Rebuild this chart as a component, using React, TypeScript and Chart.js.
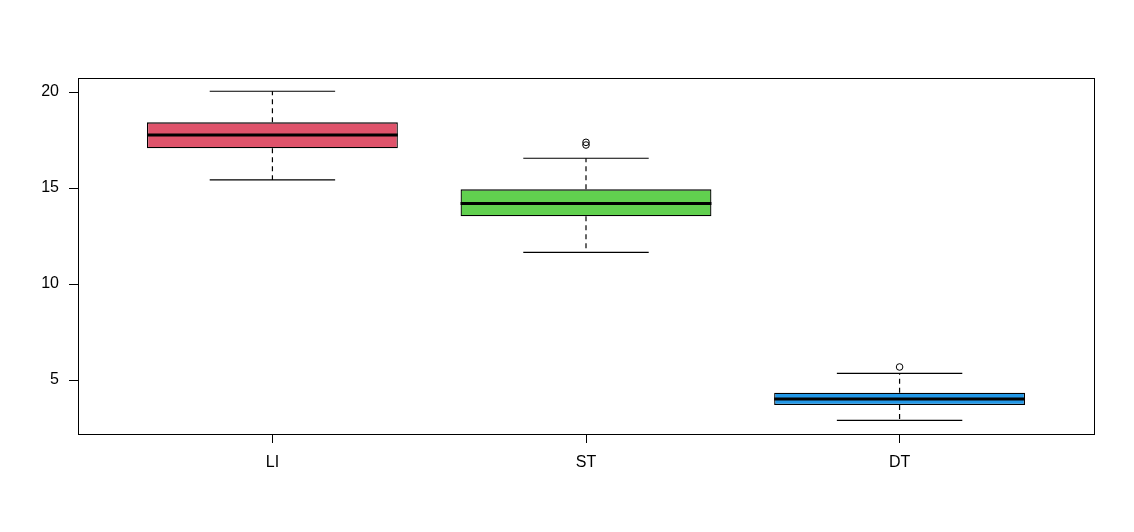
import React, { useEffect, useRef } from 'react';
import { Chart, registerables } from 'chart.js';

Chart.register(...registerables);

// ---- Data ----
const categories = ['LI', 'ST', 'DT'];
const whiskerLow = [15.42, 11.65, 2.9];
const quartile1 = [17.07, 13.53, 3.7];
const medians = [17.76, 14.2, 4.01];
const quartile3 = [18.42, 14.93, 4.34];
const whiskerHigh = [20.04, 16.55, 5.35];
const outlierCategory = [2, 2, 3];
const outlierValues = [17.38, 17.24, 5.68];
const yTicks = [5, 10, 15, 20];
const boxColors = ['#DF536B', '#61D04F', '#2297E6'];

const BOX_HALF = 0.4;
const CAP_HALF = 0.2;

type Pt = { x: number; y: number | null };

function segments(list: [number, number, number, number][]): Pt[] {
  const out: Pt[] = [];
  list.forEach(([x1, y1, x2, y2]) => {
    out.push({ x: x1, y: y1 });
    out.push({ x: x2, y: y2 });
    out.push({ x: x2, y: null });
  });
  return out;
}

const framePlugin = {
  id: 'frame',
  afterDraw(chart: any) {
    const { ctx, chartArea } = chart;
    ctx.save();
    ctx.strokeStyle = '#000';
    ctx.lineWidth = 1;
    ctx.strokeRect(
      Math.round(chartArea.left) + 0.5,
      Math.round(chartArea.top) + 0.5,
      Math.round(chartArea.right - chartArea.left),
      Math.round(chartArea.bottom - chartArea.top)
    );
    ctx.restore();
  },
};

export default function App() {
  const ref = useRef<HTMLCanvasElement | null>(null);

  useEffect(() => {
    if (!ref.current) return;
    Chart.defaults.font.family = "'Liberation Sans', Arial, sans-serif";
    Chart.defaults.font.size = 16;
    Chart.defaults.color = '#000';

    const boxData = categories.map((_, i) => ({ x: i + 1, y: [quartile1[i], quartile3[i]] }));
    const medianData = segments(
      categories.map((_, i) => [i + 1 - BOX_HALF, medians[i], i + 1 + BOX_HALF, medians[i]] as [number, number, number, number])
    );
    const whiskerData = segments(
      categories.flatMap((_, i) => [
        [i + 1, quartile3[i], i + 1, whiskerHigh[i]] as [number, number, number, number],
        [i + 1, quartile1[i], i + 1, whiskerLow[i]] as [number, number, number, number],
      ])
    );
    const capData = segments(
      categories.flatMap((_, i) => [
        [i + 1 - CAP_HALF, whiskerHigh[i], i + 1 + CAP_HALF, whiskerHigh[i]] as [number, number, number, number],
        [i + 1 - CAP_HALF, whiskerLow[i], i + 1 + CAP_HALF, whiskerLow[i]] as [number, number, number, number],
      ])
    );
    const outlierData = outlierValues.map((v, i) => ({ x: outlierCategory[i], y: v }));

    const chart = new Chart(ref.current, {
      type: 'bar',
      data: {
        datasets: [
          {
            type: 'line',
            label: 'median',
            data: medianData as any,
            borderColor: '#000',
            borderWidth: 3,
            borderCapStyle: 'butt',
            pointRadius: 0,
            spanGaps: false,
            order: 0,
          } as any,
          {
            type: 'scatter',
            label: 'outliers',
            data: outlierData,
            pointStyle: 'circle',
            pointRadius: 3.3,
            borderColor: '#000',
            borderWidth: 1,
            backgroundColor: 'rgba(0,0,0,0)',
            showLine: false,
            order: 1,
          } as any,
          {
            type: 'bar',
            label: 'box',
            data: boxData as any,
            backgroundColor: boxColors,
            borderColor: '#000',
            borderWidth: 1.3,
            borderSkipped: false,
            barPercentage: 0.8,
            categoryPercentage: 1.0,
            order: 2,
          } as any,
          {
            type: 'line',
            label: 'whiskers',
            data: whiskerData as any,
            borderColor: '#000',
            borderWidth: 1.2,
            borderDash: [5, 4],
            pointRadius: 0,
            spanGaps: false,
            order: 3,
          } as any,
          {
            type: 'line',
            label: 'caps',
            data: capData as any,
            borderColor: '#000',
            borderWidth: 1.2,
            pointRadius: 0,
            spanGaps: false,
            order: 3,
          } as any,
        ],
      },
      options: {
        responsive: false,
        animation: false,
        layout: { padding: { left: 0, top: 78, right: 40, bottom: 0 } },
        plugins: { legend: { display: false }, tooltip: { enabled: false } },
        scales: {
          x: {
            type: 'linear',
            offset: false,
            min: 0.38,
            max: 3.62,
            afterBuildTicks: (scale: any) => {
              scale.ticks = categories.map((_, i) => ({ value: i + 1 }));
            },
            afterFit: (scale: any) => {
              scale.height = 98;
            },
            ticks: {
              autoSkip: false,
              maxRotation: 0,
              padding: 10,
              color: '#000',
              callback: (v: any) => categories[Number(v) - 1] ?? '',
            },
            grid: {
              display: true,
              offset: false,
              drawOnChartArea: false,
              drawTicks: true,
              tickLength: 9,
              color: '#000',
              lineWidth: 1,
            },
            border: { display: true, color: '#000' },
          },
          y: {
            type: 'linear',
            min: 2.19,
            max: 20.73,
            afterBuildTicks: (scale: any) => {
              scale.ticks = yTicks.map((v) => ({ value: v }));
            },
            afterFit: (scale: any) => {
              scale.width = 78;
            },
            ticks: { padding: 10, color: '#000' },
            grid: { display: true, drawOnChartArea: false, drawTicks: true, tickLength: 9, color: '#000', lineWidth: 1 },
            border: { display: true, color: '#000' },
          },
        },
      },
      plugins: [framePlugin],
    } as any);

    return () => chart.destroy();
  }, []);

  return (
    <div style={{ position: 'absolute', left: 0, top: 0, width: 1134, height: 532, background: '#fff' }}>
      <canvas ref={ref} width={1134} height={532} style={{ display: 'block' }} />
    </div>
  );
}
